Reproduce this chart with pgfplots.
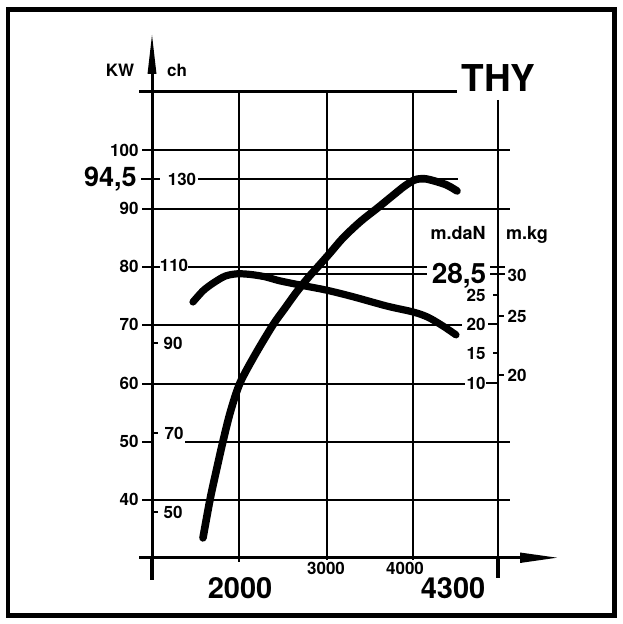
\documentclass[border=0pt]{standalone}
\usepackage{fontspec}
\setmainfont{TeX Gyre Heros}
\usepackage{pgfplots}
\pgfplotsset{compat=1.18}
\newcommand{\fs}[1]{\fontsize{#1}{#1}\selectfont\bfseries}
\begin{document}
\begin{tikzpicture}
\begin{scope}[x=0.5pt,y=-0.5pt,shift={(-76pt,278.85pt)}]
\useasboundingbox (0,0) rectangle (622,624);
\draw[line width=2.2pt] (8,9.5) rectangle (614.5,615.5);
% top line
\draw[line width=1.5pt] (139,92)--(457,92);
% horizontal lines
\begin{scope}[line width=1.1pt]
\draw (142,150)--(510,150);
\draw (141,179)--(160,179); \draw (198,179)--(458,179);
\draw (142,209)--(510,209);
\draw (142,267)--(160,267); \draw (188,267)--(427,267);
\draw (240,274.4)--(427,274.4);
\draw (142,325)--(462,325);
\draw (152,343)--(158,343);
\draw (142,384)--(465,384);
\draw (152,433)--(158,433);
\draw (142,442)--(152,442); \draw (185,442)--(510,442);
\draw (142,500)--(510,500);
\draw (152,512)--(158,512);
% verticals
\draw (239,92)--(239,562);
\draw (327,92)--(327,560);
\draw (413,92)--(413,560);
\draw (498,100)--(498,578);
% right axis ticks
\draw (486,383)--(498,383);
\draw (493,353)--(498,353);
\draw (488,324)--(498,324);
\draw (493,295)--(498,295);
\draw (490,267)--(505,267);
\draw (490,274.4)--(505,274.4);
\draw (498,316)--(504,316);
\draw (498,375)--(504,375);
\end{scope}
% axes
\draw[line width=1.5pt] (152,580)--(152,70);
\draw[line width=2pt] (152,557)--(152,580);
\draw[line width=1.8pt] (498,557)--(498,578);
\fill (152,35)--(147.5,74)--(156.5,74)--cycle;
\draw[line width=1.5pt] (139,557.7)--(522,557.7);
\fill (557,557.7)--(520,552.5)--(520,563)--cycle;
% texts
\node[inner sep=0pt,anchor=base,font=\fs{8.5}] at (120,77) {KW};
\node[inner sep=0pt,anchor=base,font=\fs{8.5}] at (177,77) {ch};
\node[inner sep=0pt,anchor=east,font=\fs{13.5}] at (137,179) {94,5};
\node[inner sep=0pt,font=\fs{8.5}] at (182,179) {130};
\node[inner sep=0pt,font=\fs{8.5}] at (174,265) {110};
\node[inner sep=0pt,font=\fs{8.5}] at (173,343) {90};
\node[inner sep=0pt,font=\fs{8.5}] at (174,433) {70};
\node[inner sep=0pt,font=\fs{8.5}] at (173,512) {50};
\node[inner sep=0pt,anchor=base west,font=\fs{18.5}] at (461,92) {THY};
\node[inner sep=0pt,anchor=base,font=\fs{9}] at (458,240) {m.daN};
\node[inner sep=0pt,anchor=base,font=\fs{9}] at (527,240) {m.kg};
\node[inner sep=0pt,font=\fs{14}] at (459,276) {28,5};
\node[inner sep=0pt,font=\fs{8.5}] at (517,275) {30};
\node[inner sep=0pt,font=\fs{8.5}] at (517,316) {25};
\node[inner sep=0pt,font=\fs{8.5}] at (517,375) {20};
\node[inner sep=0pt,font=\fs{14.5}] at (240,588) {2000};
\node[inner sep=0pt,font=\fs{14.5}] at (453,588) {4300};
\end{scope}
% power axis (KW)
\begin{axis}[
  at={(0pt,0pt)}, anchor=south west,
  scale only axis, width=174pt, height=232.85pt,
  xmin=1000, xmax=5000, ymin=30, ymax=110,
  axis line style={draw=none},
  major tick length=0pt,
  xtick={3000,4000}, xticklabels={3000,\kern-8pt 4000},
  ytick={40,50,...,100},
  ytick pos=left, xtick pos=bottom,
  yticklabel style={anchor=east, inner sep=0pt, xshift=-6.5pt, font=\fs{8.5}},
  xticklabel style={anchor=north, inner sep=0pt, yshift=-2.2pt, font=\fs{8.5}},
  /pgf/number format/assume math mode=true,
  clip=false,
]
\addplot[line width=3.8pt, smooth, line cap=round, black] coordinates {
(1586,33.4) (1667,40) (1740,45) (1816,50) (1900,55) (2011,60) (2190,65)
(2391,70) (2520,72.7) (2660,75.6) (2800,78.2) (2920,80.2) (3050,82.4)
(3200,85.0) (3400,87.8) (3586,90.0) (3750,92.0) (3900,93.8) (4020,94.9)
(4130,95.1) (4250,94.7) (4391,94.0) (4506,93.0)
};
\end{axis}
% torque axis (m.daN)
\begin{axis}[
  at={(0pt,0pt)}, anchor=south west,
  scale only axis, width=174pt, height=232.85pt,
  xmin=1000, xmax=5000, ymin=-19.78, ymax=59.59,
  axis line style={draw=none},
  major tick length=0pt,
  xtick=\empty,
  ytick={10,15,20,25},
  ytick pos=right, yticklabel pos=right,
  yticklabel style={anchor=east, inner sep=0pt, xshift=-7pt, font=\fs{8.5}},
  /pgf/number format/assume math mode=true,
  clip=false,
]
\addplot[line width=3.6pt, smooth, line cap=round, black] coordinates {
(1471,23.8) (1586,25.7) (1701,27.0) (1839,28.2) (1977,28.6) (2126,28.5)
(2299,28.1) (2471,27.4) (2736,26.6) (3011,25.8) (3310,24.7) (3701,23.1)
(4000,22.1) (4172,21.2) (4345,19.7) (4494,18.2)
};
\end{axis}
\end{tikzpicture}
\end{document}
